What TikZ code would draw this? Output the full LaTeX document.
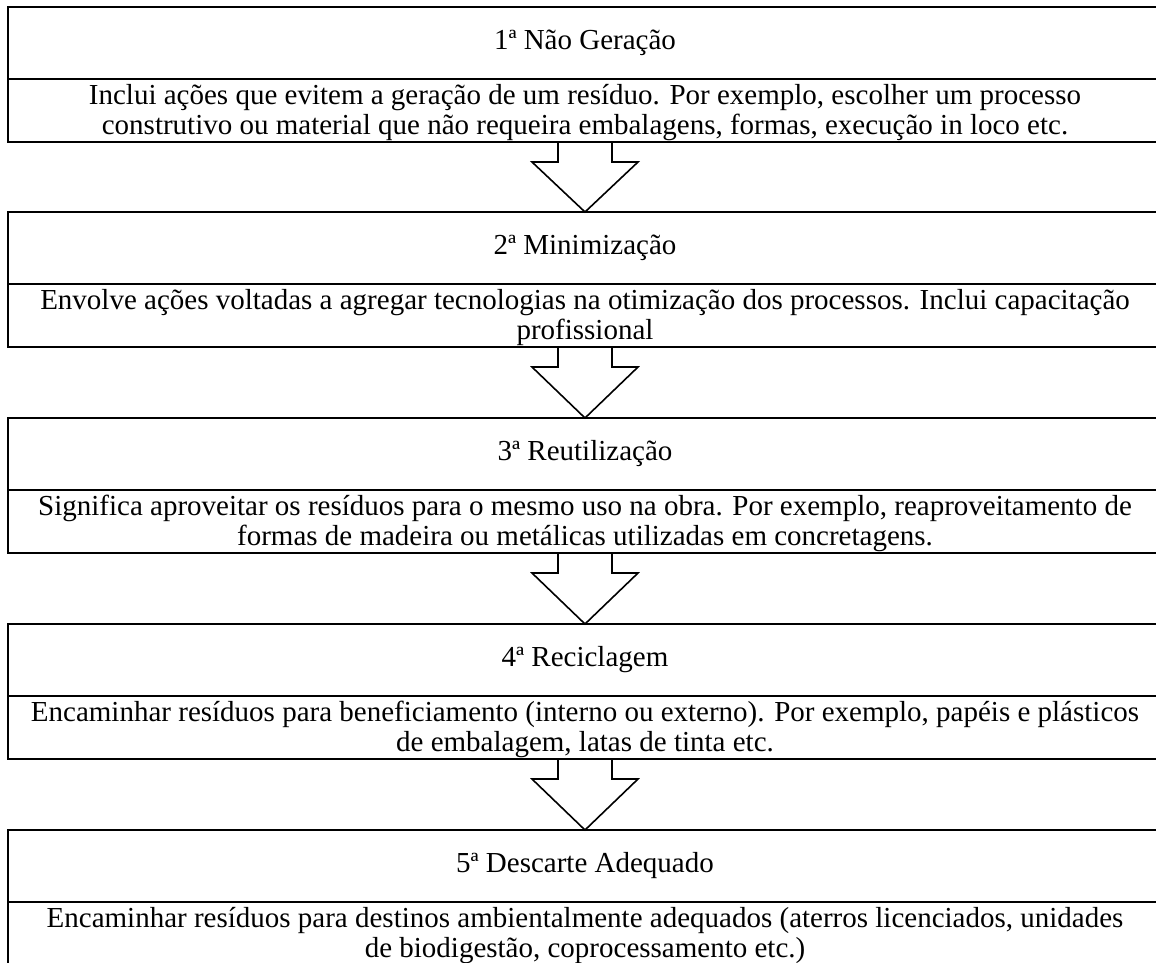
\documentclass[tikz,border=0pt]{standalone}
\usepackage{fontspec}
\setmainfont{Liberation Serif}
\begin{document}
\begin{tikzpicture}[x=1pt,y=-1pt,
  every node/.style={font=\fontsize{29}{30}\selectfont, inner sep=0pt, outer sep=0pt},
  titlebox/.style={draw, line width=1.8pt, minimum width=1154pt, minimum height=72pt, anchor=north},
  descbox/.style={draw, line width=1.8pt, minimum width=1154pt, minimum height=63pt, anchor=north, align=center, text depth=2pt},
  flowarrow/.style={draw, line width=1.6pt, line join=miter}]
\useasboundingbox (0,0) rectangle (1156,962);
\clip (0,0) rectangle (1156,962);

\node[titlebox] (h1) at (585,7) {1ª Não Geração};
\node[descbox] (d1) at (h1.south) {Inclui ações que evitem a geração de um resíduo. Por exemplo, escolher um processo\\construtivo ou material que não requeira embalagens, formas, execução in loco etc.};

\node[titlebox] (h2) at (585,212) {2ª Minimização};
\node[descbox] (d2) at (h2.south) {Envolve ações voltadas a agregar tecnologias na otimização dos processos. Inclui capacitação\\profissional};

\node[titlebox] (h3) at (585,418) {3ª Reutilização};
\node[descbox] (d3) at (h3.south) {Significa aproveitar os resíduos para o mesmo uso na obra. Por exemplo, reaproveitamento de\\formas de madeira ou metálicas utilizadas em concretagens.};

\node[titlebox] (h4) at (585,624) {4ª Reciclagem};
\node[descbox] (d4) at (h4.south) {Encaminhar resíduos para beneficiamento (interno ou externo). Por exemplo, papéis e plásticos\\de embalagem, latas de tinta etc.};

\node[titlebox] (h5) at (585,830) {5ª Descarte Adequado};
\node[descbox] (d5) at (h5.south) {Encaminhar resíduos para destinos ambientalmente adequados (aterros licenciados, unidades\\de biodigestão, coprocessamento etc.)};

\foreach \a/\b in {d1/h2, d2/h3, d3/h4, d4/h5}{
  \path (\a.south) ++(0,20) coordinate (s);
  \draw[flowarrow] ([xshift=-27pt]\a.south) -- ([xshift=-27pt]s) -- ([xshift=-53pt]s)
     -- (\b.north) -- ([xshift=53pt]s) -- ([xshift=27pt]s) -- ([xshift=27pt]\a.south);
}
\end{tikzpicture}
\end{document}
